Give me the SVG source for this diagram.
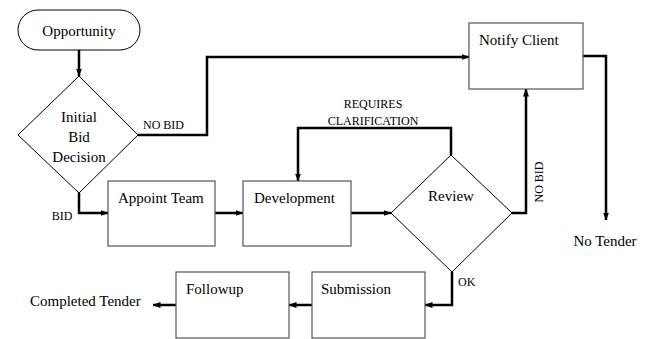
<svg xmlns="http://www.w3.org/2000/svg" width="652" height="339" viewBox="0 0 652 339">
<style>
.box{fill:#fff;stroke:#555;stroke-width:1.2}
.dia{fill:#fff;stroke:#000;stroke-width:1}
.t{font-family:'Liberation Serif',Tinos,'Times New Roman',Times,'DejaVu Serif',serif;font-size:15px;fill:#000}
.s{font-family:'Liberation Serif',Tinos,'Times New Roman',Times,'DejaVu Serif',serif;font-size:12px;fill:#000}
.c{fill:none;stroke:#000;stroke-width:2.5;stroke-linejoin:miter}
</style>
<defs>
<marker id="ah" markerUnits="userSpaceOnUse" markerWidth="8" markerHeight="8" viewBox="0 0 8 8" refX="7.5" refY="4" orient="auto">
<path d="M0,1 L8,4 L0,7 z" fill="#000"/>
</marker>
</defs>
<rect width="652" height="339" fill="#fff"/>
<g id="connectors">
<path class="c" d="M79,50 V76" marker-end="url(#ah)"/>
<path class="c" d="M138,135 H207 V57 H469" marker-end="url(#ah)"/>
<path class="c" d="M79,193 V213 H108" marker-end="url(#ah)"/>
<path class="c" d="M215,213 H243" marker-end="url(#ah)"/>
<path class="c" d="M351,213 H391" marker-end="url(#ah)"/>
<path class="c" d="M451,155 V128 H298 V181" marker-end="url(#ah)"/>
<path class="c" d="M512,213 H526 V89" marker-end="url(#ah)"/>
<path class="c" d="M583,56 H606 V220" marker-end="url(#ah)"/>
<path class="c" d="M452,272 V305 H425" marker-end="url(#ah)"/>
<path class="c" d="M312,305 H289" marker-end="url(#ah)"/>
<path class="c" d="M176,305 H153" marker-end="url(#ah)"/>
<text class="s" x="143" y="129" font-family="Liberation Serif, serif">NO BID</text>
<text class="s" x="62" y="220" text-anchor="middle">BID</text>
<text class="s" x="373" y="108" text-anchor="middle">REQUIRES</text>
<text class="s" x="373" y="125" text-anchor="middle">CLARIFICATION</text>
<text class="s" transform="translate(543,182) rotate(-90)" text-anchor="middle">NO BID</text>
<text class="s" x="458" y="286">OK</text>
</g>
<g id="opportunity">
<rect class="dia" x="18" y="10" width="122" height="40" rx="20" ry="20"/>
<text class="t" x="79" y="36" text-anchor="middle">Opportunity</text>
</g>
<g id="initial-bid-decision">
<path class="dia" d="M79,76 L138,135 L79,193 L18,135 Z"/>
<text class="t" x="79" y="122" text-anchor="middle">Initial</text>
<text class="t" x="79" y="142" text-anchor="middle">Bid</text>
<text class="t" x="79" y="162" text-anchor="middle">Decision</text>
</g>
<g id="notify-client">
<rect class="box" x="469" y="23" width="114" height="66"/>
<text class="t" x="479" y="45">Notify Client</text>
</g>
<g id="no-tender">
<text class="t" x="605" y="246" text-anchor="middle">No Tender</text>
</g>
<g id="appoint-team">
<rect class="box" x="108" y="181" width="107" height="65"/>
<text class="t" x="118" y="203">Appoint Team</text>
</g>
<g id="development">
<rect class="box" x="243" y="181" width="108" height="65"/>
<text class="t" x="254" y="203">Development</text>
</g>
<g id="review">
<path class="dia" d="M451,155 L512,213 L452,272 L391,213 Z"/>
<text class="t" x="451" y="201" text-anchor="middle">Review</text>
</g>
<g id="submission">
<rect class="box" x="312" y="272" width="113" height="66"/>
<text class="t" x="321" y="294">Submission</text>
</g>
<g id="followup">
<rect class="box" x="176" y="272" width="113" height="66"/>
<text class="t" x="186" y="294">Followup</text>
</g>
<g id="completed-tender">
<text class="t" x="30" y="306">Completed Tender</text>
</g>
</svg>
